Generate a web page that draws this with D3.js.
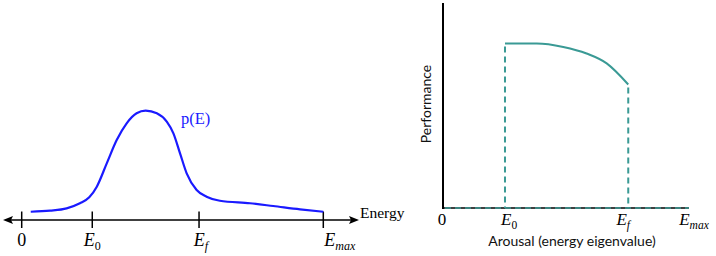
<!DOCTYPE html>
<html><head><meta charset="utf-8">
<script src="https://cdn.jsdelivr.net/npm/d3@7"></script>
<style>html,body{margin:0;padding:0;background:#fff;}svg{display:block;}</style>
</head><body>
<svg id="chart" width="716" height="256"></svg>
<script>
// ---- Left panel: distribution p(E) ----
const leftEnergy = [3.0, 9.4, 14.9, 19.3, 22.4, 24.9, 28.2, 31.5, 34.8, 38.1, 41.1, 44.8, 48.1, 50.3, 52.5, 54.7, 58.0, 61.3, 65.7, 75.7, 83.4, 92.3, 100];
const leftDensity = [0.075, 0.085, 0.106, 0.152, 0.206, 0.303, 0.515, 0.727, 0.879, 0.970, 0.994, 0.970, 0.894, 0.788, 0.606, 0.424, 0.273, 0.212, 0.175, 0.152, 0.127, 0.097, 0.075];
const leftTickValues = [0, 23.4, 58.8, 100];
const leftTickLabels = [["0", ""], ["E", "0"], ["E", "f"], ["E", "max"]];

// ---- Right panel: performance ----
const rightEnergy = [25.4, 38.2, 48.9, 58.3, 66.4, 75.1];
const rightPerformance = [1.0, 1.0, 0.979, 0.939, 0.879, 0.751];
const rightTickValues = [0, 25.4, 75.1, 100];
const rightTickLabels = [["0", ""], ["E", "0"], ["E", "f"], ["E", "max"]];

const svg = d3.select("#chart");
const SERIF = '"Liberation Serif"';
const SANS = '"Lato"';
const blue = "#1a1aff";
const teal = "#3a9a95";

// ===== Left =====
const xL = d3.scaleLinear().domain([0, 100]).range([21.7, 323.3]);
const yL = d3.scaleLinear().domain([0, 1]).range([220, 110]);
const axisY = yL(0);

const gL = svg.append("g");
gL.append("line").attr("x1", 8).attr("x2", 354).attr("y1", axisY).attr("y2", axisY)
  .attr("stroke", "#000").attr("stroke-width", 1.6);
gL.append("path").attr("d", `M3,${axisY} L13,${axisY-4} L11,${axisY} L13,${axisY+4} Z`).attr("fill", "#000");
gL.append("path").attr("d", `M359,${axisY} L349,${axisY-4} L351,${axisY} L349,${axisY+4} Z`).attr("fill", "#000");
gL.selectAll(".tickL").data(leftTickValues).join("line")
  .attr("x1", d => xL(d)).attr("x2", d => xL(d))
  .attr("y1", axisY - 8.5).attr("y2", axisY + 8)
  .attr("stroke", "#000").attr("stroke-width", 1.5);
const anchorsL = ["middle", "middle", "middle", "start"];
const offL = [0, 0, 2, 1];
leftTickValues.forEach((v, i) => {
  const [main, sub] = leftTickLabels[i];
  const t = gL.append("text").attr("x", xL(v) + offL[i]).attr("y", 246)
    .attr("text-anchor", anchorsL[i]).style("font-family", SERIF).style("font-size", "18px");
  if (!sub) { t.text(main); return; }
  t.append("tspan").style("font-style", "italic").text(main);
  t.append("tspan").style("font-size", "12px").attr("dy", 4)
    .style("font-style", sub === "0" ? "normal" : "italic").text(sub);
});
gL.append("text").attr("x", 360).attr("y", 217.5).style("font-family", SERIF)
  .style("font-size", "15.5px").text("Energy");

const lineL = d3.line().x((d, i) => xL(leftEnergy[i])).y(d => yL(d)).curve(d3.curveMonotoneX);
gL.append("path").datum(leftDensity).attr("d", lineL)
  .attr("fill", "none").attr("stroke", blue).attr("stroke-width", 2.2);
gL.append("text").attr("x", 181).attr("y", 123.5).style("font-family", SERIF)
  .style("font-size", "16.5px").attr("fill", blue).text("p(E)");

// ===== Right =====
const xR = d3.scaleLinear().domain([0, 100]).range([442, 690]);
const yR = d3.scaleLinear().domain([0, 1]).range([208, 43.5]);
const gR = svg.append("g");
const base = yR(0);

gR.append("line").attr("x1", xR(0)).attr("x2", 689).attr("y1", base).attr("y2", base)
  .attr("stroke", "#000").attr("stroke-width", 1.6);
gR.append("line").attr("x1", xR(0) + 3).attr("x2", 689).attr("y1", base).attr("y2", base)
  .attr("stroke", teal).attr("stroke-width", 1.6).attr("stroke-dasharray", "6,4");
gR.append("line").attr("x1", 443).attr("x2", 443).attr("y1", 3).attr("y2", base + 1)
  .attr("stroke", "#000").attr("stroke-width", 2);

const firstE = rightEnergy[0], lastE = rightEnergy[rightEnergy.length - 1];
const firstP = rightPerformance[0], lastP = rightPerformance[rightPerformance.length - 1];
[[firstE, firstP], [lastE, lastP]].forEach(([e, p]) => {
  gR.append("line").attr("x1", xR(e)).attr("x2", xR(e)).attr("y1", yR(p) + 3).attr("y2", base)
    .attr("stroke", teal).attr("stroke-width", 2).attr("stroke-dasharray", "6,4");
});
const lineR = d3.line().x((d, i) => xR(rightEnergy[i])).y(d => yR(d)).curve(d3.curveMonotoneX);
gR.append("path").datum(rightPerformance).attr("d", lineR)
  .attr("fill", "none").attr("stroke", teal).attr("stroke-width", 2);

const anchorsR = ["middle", "start", "middle", "middle"];
const offR = [0, -4, -5, 4];
rightTickValues.forEach((v, i) => {
  const [main, sub] = rightTickLabels[i];
  const t = gR.append("text").attr("x", xR(v) + offR[i]).attr("y", 225)
    .attr("text-anchor", anchorsR[i]).style("font-family", SERIF).style("font-size", "17px");
  if (!sub) { t.text(main); return; }
  t.append("tspan").style("font-style", "italic").text(main);
  t.append("tspan").style("font-size", "11.5px").attr("dy", 4)
    .style("font-style", sub === "0" ? "normal" : "italic").text(sub);
});
gR.append("text").attr("x", 572).attr("y", 245.5).attr("text-anchor", "middle")
  .style("font-family", SANS).style("font-size", "14px").attr("fill", "#111")
  .text("Arousal (energy eigenvalue)");
gR.append("text").attr("transform", "translate(431,104) rotate(-90)").attr("text-anchor", "middle")
  .style("font-family", SANS).style("font-size", "14px").attr("fill", "#111")
  .text("Performance");
</script>
</body></html>
